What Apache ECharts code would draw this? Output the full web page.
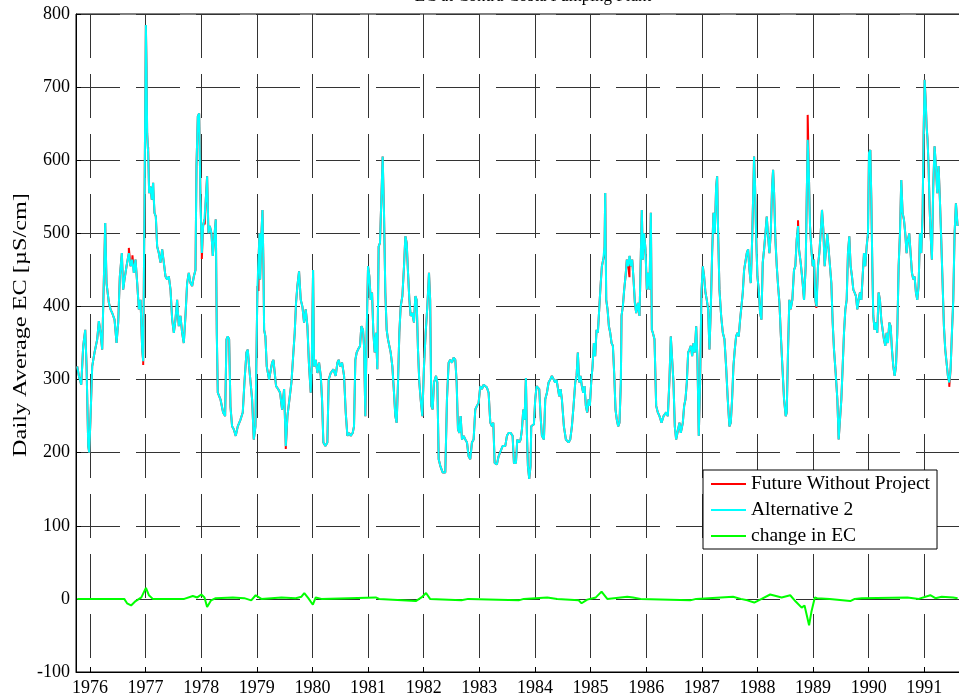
<!DOCTYPE html>
<html><head><meta charset="utf-8">
<script src="https://cdn.jsdelivr.net/npm/echarts@6/dist/echarts.min.js"></script>
<style>html,body{margin:0;padding:0;background:#fff}#c{width:959px;height:700px}</style>
</head><body><div id="c"></div>
<script>
const titleText = 'EC at Contra Costa Pumping Plant';
const yLabel = 'Daily Average EC [\u00b5S/cm]';
const seriesNames = ['Future Without Project', 'Alternative 2', 'change in EC'];
const yearTicks = [1976,1977,1978,1979,1980,1981,1982,1983,1984,1985,1986,1987,1988,1989,1990,1991];

// Alternative 2 daily average EC [decimal year, uS/cm]
const alt2 = [
[1975.772,318],[1975.802,305],[1975.844,293],[1975.880,346],[1975.916,368],[1975.940,318],[1975.970,209],[1975.988,200],
[1976.012,250],[1976.041,318],[1976.083,337],[1976.131,355],[1976.161,380],[1976.191,364],[1976.221,341],[1976.251,339],
[1976.275,514],[1976.299,432],[1976.341,405],[1976.371,396],[1976.401,391],[1976.443,382],[1976.479,350],[1976.509,378],
[1976.538,441],[1976.574,473],[1976.598,423],[1976.622,437],[1976.658,455],[1976.700,473],[1976.730,455],[1976.760,464],
[1976.790,446],[1976.820,464],[1976.850,432],[1976.880,396],[1976.910,409],[1976.940,341],[1976.958,325],[1976.982,546],
[1977.006,785],[1977.018,728],[1977.029,637],[1977.047,610],[1977.065,555],[1977.089,564],[1977.113,546],[1977.137,569],
[1977.161,528],[1977.185,523],[1977.209,482],[1977.239,473],[1977.269,460],[1977.299,478],[1977.329,460],[1977.359,441],
[1977.389,437],[1977.419,441],[1977.449,423],[1977.479,382],[1977.509,364],[1977.538,382],[1977.568,409],[1977.598,373],
[1977.628,387],[1977.658,364],[1977.688,350],[1977.718,387],[1977.748,432],[1977.778,446],[1977.808,432],[1977.838,428],
[1977.868,441],[1977.898,450],[1977.916,592],[1977.940,660],[1977.964,664],[1977.988,546],[1978.012,473],[1978.035,510],
[1978.059,519],[1978.083,546],[1978.107,578],[1978.131,500],[1978.155,510],[1978.185,500],[1978.209,469],[1978.239,469],
[1978.263,519],[1978.281,364],[1978.299,282],[1978.347,273],[1978.395,255],[1978.431,250],[1978.455,355],[1978.479,359],
[1978.503,355],[1978.527,263],[1978.556,236],[1978.586,232],[1978.622,223],[1978.658,236],[1978.706,245],[1978.748,255],
[1978.778,296],[1978.814,337],[1978.838,341],[1978.862,318],[1978.886,318],[1978.916,273],[1978.946,218],[1978.976,236],
[1979.012,428],[1979.036,473],[1979.048,500],[1979.060,437],[1979.084,500],[1979.102,532],[1979.120,455],[1979.132,368],
[1979.155,359],[1979.179,318],[1979.221,300],[1979.251,298],[1979.275,323],[1979.299,327],[1979.323,325],[1979.347,291],
[1979.383,287],[1979.419,282],[1979.455,259],[1979.491,287],[1979.521,209],[1979.551,250],[1979.587,273],[1979.623,296],
[1979.658,337],[1979.682,364],[1979.706,405],[1979.730,428],[1979.760,448],[1979.790,409],[1979.820,400],[1979.850,378],
[1979.880,396],[1979.910,373],[1979.940,318],[1979.970,282],[1979.988,318],[1980.012,450],[1980.030,318],[1980.060,327],
[1980.090,309],[1980.120,323],[1980.150,305],[1980.173,273],[1980.197,214],[1980.233,209],[1980.269,214],[1980.293,300],
[1980.329,309],[1980.377,314],[1980.419,305],[1980.449,323],[1980.473,327],[1980.497,318],[1980.533,323],[1980.569,305],
[1980.599,255],[1980.629,223],[1980.659,227],[1980.688,223],[1980.724,227],[1980.748,236],[1980.772,327],[1980.796,337],
[1980.820,341],[1980.856,346],[1980.880,373],[1980.910,368],[1980.928,346],[1980.952,250],[1980.976,364],[1981.000,455],
[1981.024,441],[1981.048,409],[1981.072,419],[1981.096,364],[1981.120,337],[1981.144,364],[1981.167,314],[1981.191,482],
[1981.215,487],[1981.239,546],[1981.263,605],[1981.287,528],[1981.311,419],[1981.335,368],[1981.359,355],[1981.383,346],
[1981.407,337],[1981.437,318],[1981.467,282],[1981.491,250],[1981.515,241],[1981.539,296],[1981.563,364],[1981.587,400],
[1981.617,414],[1981.647,455],[1981.671,496],[1981.695,487],[1981.719,446],[1981.743,409],[1981.766,387],[1981.796,391],
[1981.826,378],[1981.850,414],[1981.874,409],[1981.898,341],[1981.922,296],[1981.946,273],[1981.976,250],[1982.006,318],
[1982.036,364],[1982.066,400],[1982.096,446],[1982.117,409],[1982.138,264],[1982.162,259],[1982.186,296],[1982.222,305],
[1982.246,296],[1982.270,191],[1982.299,182],[1982.341,173],[1982.389,173],[1982.419,273],[1982.449,323],[1982.479,327],
[1982.509,323],[1982.539,330],[1982.569,327],[1982.593,296],[1982.617,232],[1982.641,227],[1982.665,250],[1982.689,218],
[1982.719,223],[1982.749,218],[1982.779,214],[1982.808,195],[1982.838,191],[1982.868,214],[1982.898,218],[1982.928,259],
[1982.958,264],[1982.988,268],[1983.018,291],[1983.048,287],[1983.078,293],[1983.108,291],[1983.138,289],[1983.168,282],
[1983.198,241],[1983.228,236],[1983.252,241],[1983.276,186],[1983.317,184],[1983.347,195],[1983.377,195],[1983.419,209],
[1983.467,209],[1983.497,223],[1983.527,227],[1983.563,227],[1983.599,223],[1983.623,186],[1983.659,186],[1983.683,218],
[1983.719,214],[1983.743,218],[1983.767,232],[1983.791,259],[1983.814,245],[1983.838,302],[1983.856,227],[1983.874,182],
[1983.898,164],[1983.922,182],[1983.934,236],[1983.958,236],[1983.982,239],[1984.006,273],[1984.030,291],[1984.054,291],
[1984.078,287],[1984.102,250],[1984.126,223],[1984.162,218],[1984.186,273],[1984.216,282],[1984.246,296],[1984.276,300],
[1984.305,305],[1984.335,305],[1984.365,296],[1984.389,300],[1984.413,300],[1984.437,277],[1984.461,287],[1984.485,273],
[1984.521,236],[1984.557,218],[1984.605,214],[1984.635,218],[1984.665,236],[1984.695,264],[1984.725,296],[1984.749,305],
[1984.772,337],[1984.796,296],[1984.820,305],[1984.844,291],[1984.868,282],[1984.892,291],[1984.916,264],[1984.940,255],
[1984.964,273],[1984.988,264],[1985.012,296],[1985.036,318],[1985.060,350],[1985.084,332],[1985.108,368],[1985.132,364],
[1985.156,396],[1985.180,428],[1985.204,455],[1985.228,464],[1985.252,482],[1985.264,555],[1985.282,409],[1985.306,396],
[1985.330,373],[1985.354,364],[1985.378,350],[1985.402,346],[1985.425,309],[1985.449,259],[1985.473,245],[1985.497,236],
[1985.521,241],[1985.545,296],[1985.557,387],[1985.581,400],[1985.605,423],[1985.629,441],[1985.653,464],[1985.677,455],
[1985.701,469],[1985.725,455],[1985.749,464],[1985.773,437],[1985.797,405],[1985.821,391],[1985.851,405],[1985.881,387],
[1985.905,473],[1985.922,532],[1985.940,464],[1985.964,500],[1985.988,478],[1986.012,423],[1986.036,446],[1986.060,423],
[1986.084,528],[1986.102,368],[1986.120,364],[1986.150,355],[1986.180,264],[1986.210,255],[1986.240,250],[1986.276,241],
[1986.312,250],[1986.360,255],[1986.390,250],[1986.419,300],[1986.443,359],[1986.467,359],[1986.491,296],[1986.515,236],
[1986.539,218],[1986.575,232],[1986.599,241],[1986.623,227],[1986.659,241],[1986.683,264],[1986.707,273],[1986.731,296],
[1986.755,337],[1986.779,341],[1986.803,346],[1986.827,332],[1986.851,350],[1986.875,337],[1986.899,373],[1986.922,327],
[1986.946,223],[1986.970,296],[1986.994,419],[1987.018,455],[1987.042,441],[1987.066,419],[1987.090,409],[1987.114,396],
[1987.138,341],[1987.162,396],[1987.186,473],[1987.210,528],[1987.234,500],[1987.258,564],[1987.276,578],[1987.294,500],
[1987.318,423],[1987.348,387],[1987.378,364],[1987.408,355],[1987.437,318],[1987.467,273],[1987.497,236],[1987.521,241],
[1987.545,273],[1987.569,318],[1987.593,341],[1987.617,359],[1987.641,364],[1987.665,359],[1987.689,382],[1987.713,400],
[1987.737,419],[1987.761,450],[1987.785,450],[1987.809,473],[1987.833,478],[1987.857,450],[1987.881,432],[1987.905,491],
[1987.922,546],[1987.940,605],[1987.958,564],[1987.976,500],[1988.000,441],[1988.024,423],[1988.048,391],[1988.072,382],
[1988.096,460],[1988.120,478],[1988.144,500],[1988.168,523],[1988.192,496],[1988.216,473],[1988.240,500],[1988.264,564],
[1988.282,587],[1988.300,555],[1988.324,491],[1988.348,455],[1988.372,428],[1988.396,405],[1988.419,364],[1988.449,318],
[1988.479,273],[1988.509,250],[1988.527,255],[1988.551,341],[1988.574,409],[1988.598,396],[1988.628,409],[1988.658,450],
[1988.682,455],[1988.706,491],[1988.730,510],[1988.748,478],[1988.778,460],[1988.808,437],[1988.838,409],[1988.868,455],
[1988.886,546],[1988.904,628],[1988.922,592],[1988.946,510],[1988.970,478],[1988.994,455],[1989.018,464],[1989.042,409],
[1989.065,400],[1989.089,455],[1989.113,473],[1989.137,500],[1989.161,532],[1989.185,505],[1989.209,455],[1989.233,478],
[1989.257,500],[1989.281,500],[1989.305,455],[1989.329,432],[1989.353,378],[1989.377,341],[1989.407,309],[1989.437,273],
[1989.461,218],[1989.485,218],[1989.509,273],[1989.533,318],[1989.557,364],[1989.581,396],[1989.605,409],[1989.628,473],
[1989.652,496],[1989.676,455],[1989.700,441],[1989.724,423],[1989.748,419],[1989.772,414],[1989.796,396],[1989.820,409],
[1989.844,419],[1989.868,409],[1989.892,441],[1989.916,473],[1989.940,455],[1989.964,482],[1989.988,500],[1990.006,610],
[1990.030,614],[1990.048,546],[1990.066,455],[1990.083,387],[1990.107,368],[1990.131,378],[1990.155,364],[1990.179,419],
[1990.203,409],[1990.227,382],[1990.251,368],[1990.275,355],[1990.299,346],[1990.323,364],[1990.347,350],[1990.371,378],
[1990.395,373],[1990.419,341],[1990.443,318],[1990.467,305],[1990.491,318],[1990.515,364],[1990.539,455],[1990.563,500],
[1990.586,573],[1990.610,528],[1990.634,519],[1990.658,500],[1990.682,473],[1990.706,491],[1990.730,500],[1990.754,473],
[1990.778,446],[1990.802,437],[1990.826,441],[1990.850,419],[1990.874,409],[1990.898,428],[1990.922,500],[1990.946,473],
[1990.970,528],[1990.988,637],[1991.006,710],[1991.024,683],[1991.042,646],[1991.059,628],[1991.077,592],[1991.095,537],
[1991.113,500],[1991.137,464],[1991.161,564],[1991.185,619],[1991.209,592],[1991.233,555],[1991.257,592],[1991.281,546],
[1991.305,491],[1991.329,432],[1991.353,373],[1991.377,341],[1991.401,323],[1991.425,305],[1991.449,296],[1991.473,314],
[1991.497,364],[1991.521,409],[1991.545,500],[1991.569,541],[1991.599,510]
];

// Future Without Project: readings where it departs from Alternative 2 (elsewhere it coincides)
const fwpOwn = [
[1976.700,480],[1976.765,470],[1976.958,320],[1977.047,618],[1977.140,560],[1978.012,465],[1978.065,512],
[1978.830,338],[1979.030,421],[1979.521,205],[1979.850,376],[1981.680,494],[1984.950,258],[1985.246,470],
[1985.700,440],[1987.943,603],[1988.730,518],[1988.904,662],[1989.060,398],[1991.449,290]
];

// change in EC (Alternative 2 minus Future Without Project)
const change = [
[1975.772,0],[1976.617,0],[1976.668,-6],[1976.740,-9],[1976.822,-3],[1976.925,2],[1977.007,15],[1977.060,5],
[1977.131,0],[1977.696,0],[1977.850,4],[1977.930,2],[1978.004,6],[1978.060,2],[1978.107,-11],[1978.179,-2],
[1978.261,1],[1978.569,2],[1978.775,1],[1978.900,-2],[1978.980,5],[1979.083,0],[1979.443,2],[1979.700,1],
[1979.803,3],[1979.854,8],[1979.926,1],[1980.008,-8],[1980.060,2],[1980.162,0],[1981.139,2],[1981.200,0],
[1981.858,-3],[1981.961,2],[1982.043,8],[1982.115,0],[1982.680,-2],[1982.800,0],[1983.708,-2],[1983.800,0],
[1984.222,2],[1984.400,0],[1984.787,-2],[1984.839,-6],[1984.941,-1],[1985.096,2],[1985.198,10],[1985.301,0],
[1985.661,3],[1985.764,2],[1985.900,0],[1986.792,-2],[1986.900,0],[1987.562,3],[1987.700,0],[1987.819,-2],
[1987.943,-5],[1988.076,0],[1988.230,6],[1988.436,2],[1988.590,5],[1988.693,-4],[1988.796,-12],[1988.847,-9],
[1988.929,-36],[1988.970,-18],[1989.032,2],[1989.073,1],[1989.300,0],[1989.669,-3],[1989.750,0],[1989.875,1],
[1990.697,2],[1990.900,0],[1991.108,5],[1991.200,1],[1991.313,3],[1991.518,2],[1991.599,1]
];

const fwp = alt2.concat(fwpOwn).sort((a, b) => a[0] - b[0]);

const FONT = '"Liberation Serif", "Times New Roman", serif';
const chart = echarts.init(document.getElementById('c'), null, {renderer: 'canvas'});
const dash = [44, 16];
chart.setOption({
  animation: false,
  backgroundColor: '#fff',
  title: {
    text: titleText, left: 528, top: -17, textAlign: 'center',
    textStyle: {fontFamily: FONT, fontSize: 17, fontWeight: 'normal', color: '#000'}
  },
  graphic: [{
    type: 'text', x: 21, y: 325, rotation: Math.PI / 2, scaleX: 1.35,
    style: {text: yLabel, fontFamily: FONT, fontSize: 18, fill: '#000', align: 'center', verticalAlign: 'middle'}
  }],
  grid: {left: 76, right: -7, top: 14, bottom: 28, show: true, borderColor: '#000', borderWidth: 1,
         containLabel: false, outerBoundsMode: 'none'},
  legend: {
    orient: 'vertical', left: 703, top: 470,
    data: seriesNames, icon: 'rect', itemWidth: 35, itemHeight: 2, itemGap: 6,
    padding: [4, 7, 3, 8], borderColor: '#000', borderWidth: 1, backgroundColor: '#fff',
    textStyle: {fontFamily: FONT, fontSize: 19.5, color: '#000', lineHeight: 20}
  },
  xAxis: {
    type: 'value', min: 1975.75, max: 1991.75,
    axisLine: {show: true, onZero: false, lineStyle: {color: '#000', width: 1}},
    axisTick: {show: true, inside: true, length: 5, customValues: yearTicks, lineStyle: {color: '#000'}},
    axisLabel: {customValues: yearTicks, fontFamily: FONT, fontSize: 18, color: '#000', margin: 7, formatter: v => String(v)},
    splitLine: {show: true, lineStyle: {color: '#333', width: 1, type: dash}}
  },
  yAxis: {
    type: 'value', min: -100, max: 800, interval: 100,
    axisLine: {show: true, onZero: false, lineStyle: {color: '#000', width: 1}},
    axisTick: {show: true, inside: true, length: 5, lineStyle: {color: '#000'}},
    axisLabel: {fontFamily: FONT, fontSize: 18, color: '#000', margin: 6},
    splitLine: {show: true, lineStyle: {color: '#333', width: 1, type: dash}}
  },
  series: [
    {name: seriesNames[0], type: 'line', data: fwp, showSymbol: false, symbol: 'none', color: '#ff0000', lineStyle: {width: 2, color: '#ff0000'}},
    {name: seriesNames[1], type: 'line', data: alt2, showSymbol: false, symbol: 'none', color: '#00ffff', lineStyle: {width: 2, color: '#00ffff'}},
    {name: seriesNames[2], type: 'line', data: change, showSymbol: false, symbol: 'none', color: '#00ff00', lineStyle: {width: 2, color: '#00ff00'}}
  ]
});
</script>
</body></html>
